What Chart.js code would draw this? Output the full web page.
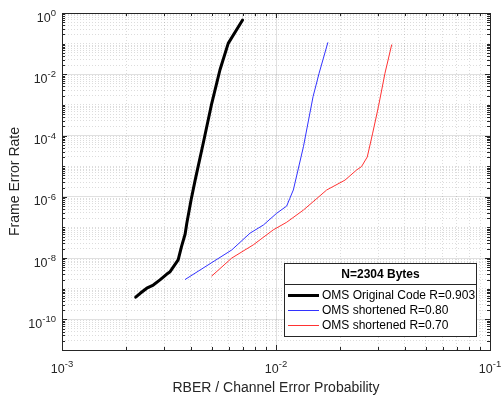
<!DOCTYPE html>
<html>
<head>
<meta charset="utf-8">
<script src="https://cdn.jsdelivr.net/npm/chart.js@4.4.1/dist/chart.umd.min.js"></script>
<style>
  html, body { margin: 0; padding: 0; background: #fff; }
  canvas { display: block; }
</style>
</head>
<body>
<canvas id="ferChart" width="501" height="395"></canvas>
<script>
// axis limits (log10 exponents)
const xExpRange = [-3, -1];
const yExpRange = [-11, 0];
const xLabelExps = [-3, -2, -1];
const yLabelExps = [0, -2, -4, -6, -8, -10];

const xTitle = 'RBER / Channel Error Probability';
const yTitle = 'Frame Error Rate';
const legendTitle = 'N=2304 Bytes';

const seriesLabels = [
    'OMS Original Code R=0.903',
    'OMS shortened R=0.80',
    'OMS shortened R=0.70'
];

// OMS original code
const origX = [0.00221, 0.00232, 0.00249, 0.00267, 0.00287, 0.00308, 0.0032, 0.00349, 0.00362,
    0.00376, 0.00383, 0.00401, 0.00419, 0.00457, 0.00501, 0.00547, 0.00598, 0.00698];
const origY = [5.3e-10, 7.1e-10, 1.04e-9, 1.32e-9, 1.94e-9, 2.96e-9, 3.6e-9, 8.7e-9, 2.4e-8,
    6e-8, 1.37e-7, 7.9e-7, 3.5e-6, 5.6e-5, 1.13e-3, 1.38e-2, 0.102, 0.59];

// shortened R=0.80
const r80X = [0.00376, 0.00621, 0.00756, 0.00873, 0.01007, 0.01122, 0.0116, 0.01205, 0.01343,
    0.0149, 0.0159, 0.01746];
const r80Y = [2.0e-9, 1.84e-8, 6.5e-8, 1.2e-7, 2.9e-7, 5.0e-7, 8.9e-7, 1.67e-6, 4.3e-5,
    1.86e-3, 1.08e-2, 0.107];

// shortened R=0.70
const r70X = [0.00501, 0.00621, 0.00783, 0.0097, 0.01122, 0.01343, 0.0149, 0.01725, 0.0210,
    0.0238, 0.0251, 0.0267, 0.0283, 0.0301, 0.0323, 0.0347];
const r70Y = [2.6e-9, 1.0e-8, 2.7e-8, 8.3e-8, 1.48e-7, 3.7e-7, 6.9e-7, 1.67e-6, 3.5e-6,
    7.5e-6, 9.7e-6, 2.0e-5, 1.2e-4, 8.7e-4, 1.08e-2, 0.091];

const FONT = '"Liberation Sans", Arial, Helvetica, sans-serif';
const AXIS_COLOR = 'rgb(38,38,38)';

function pts(xs, ys) {
    return xs.map((x, i) => ({ x: x, y: ys[i] }));
}

// 1..9 x 10^e for every decade, like matlab minor ticks
function logTicks(range) {
    const out = [];
    for (let e = range[0]; e < range[1]; e++) {
        for (let m = 1; m <= 9; m++) out.push({ value: m * Math.pow(10, e) });
    }
    out.push({ value: Math.pow(10, range[1]) });
    return out;
}

function decadeOf(v) {
    const l = Math.log10(v);
    const r = Math.round(l);
    return Math.abs(l - r) < 1e-9 ? r : null;
}

function isMajor(v, labelExps) {
    const d = decadeOf(v);
    return d !== null && labelExps.includes(d);
}

function gridFor(labelExps) {
    return {
        drawTicks: false,
        color: (c) => isMajor(c.tick.value, labelExps) ? 'rgba(38,38,38,0.14)' : 'rgba(38,38,38,0.16)',
        lineWidth: 1
    };
}

function borderFor(labelExps) {
    return {
        display: false,
        dash: (c) => (c.tick && isMajor(c.tick.value, labelExps)) ? [] : [1, 2]
    };
}

// box, inner tick marks, superscript labels, titles and the boxed legend
const matlabAxes = {
    id: 'matlabAxes',
    afterDraw(chart) {
        const ctx = chart.ctx;
        const a = chart.chartArea;
        const xs = chart.scales.x;
        const ys = chart.scales.y;

        ctx.save();
        ctx.strokeStyle = AXIS_COLOR;
        ctx.lineWidth = 1;

        // tick marks on all four sides
        ctx.beginPath();
        xs.ticks.forEach(t => {
            const px = Math.round(xs.getPixelForValue(t.value)) + 0.5;
            const len = decadeOf(t.value) !== null ? 5 : 3;
            ctx.moveTo(px, a.bottom); ctx.lineTo(px, a.bottom - len);
            ctx.moveTo(px, a.top); ctx.lineTo(px, a.top + len);
        });
        ys.ticks.forEach(t => {
            const py = Math.round(ys.getPixelForValue(t.value)) + 0.5;
            const len = isMajor(t.value, yLabelExps) ? 5 : 3;
            ctx.moveTo(a.left, py); ctx.lineTo(a.left + len, py);
            ctx.moveTo(a.right, py); ctx.lineTo(a.right - len, py);
        });
        ctx.stroke();

        ctx.strokeRect(Math.round(a.left) + 0.5, Math.round(a.top) + 0.5,
            Math.round(a.right - a.left), Math.round(a.bottom - a.top));

        ctx.fillStyle = AXIS_COLOR;
        ctx.textBaseline = 'alphabetic';

        // x tick labels
        xLabelExps.forEach(e => {
            const px = xs.getPixelForValue(Math.pow(10, e));
            ctx.font = '12.5px ' + FONT;
            const wb = ctx.measureText('10').width;
            ctx.font = '9.5px ' + FONT;
            const we = ctx.measureText(String(e)).width;
            const x0 = px - (wb + we) / 2;
            ctx.textAlign = 'left';
            ctx.font = '12.5px ' + FONT;
            ctx.fillText('10', x0, 372.5);
            ctx.font = '9.5px ' + FONT;
            ctx.fillText(String(e), x0 + wb, 366.5);
        });

        // y tick labels
        yLabelExps.forEach(e => {
            const py = ys.getPixelForValue(Math.pow(10, e));
            ctx.font = '9.5px ' + FONT;
            const we = ctx.measureText(String(e)).width;
            ctx.textAlign = 'right';
            ctx.fillText(String(e), 56, py + 3);
            ctx.font = '12.5px ' + FONT;
            ctx.fillText('10', 56 - we, py + 8.5);
        });

        // axis titles
        ctx.font = '14px ' + FONT;
        ctx.textAlign = 'center';
        ctx.fillText(xTitle, (a.left + a.right) / 2, 392);
        ctx.save();
        ctx.translate(18.5, (a.top + a.bottom) / 2);
        ctx.rotate(-Math.PI / 2);
        ctx.fillText(yTitle, 0, 0);
        ctx.restore();

        // legend
        const L = 284.5, T = 263.5, R = 476.5, B = 336.5;
        ctx.fillStyle = '#fff';
        ctx.fillRect(L, T, R - L, B - T);
        ctx.strokeStyle = AXIS_COLOR;
        ctx.lineWidth = 1;
        ctx.strokeRect(L, T, R - L, B - T);
        ctx.beginPath();
        ctx.moveTo(L, 284.5); ctx.lineTo(R, 284.5);
        ctx.stroke();

        ctx.fillStyle = 'rgb(0,0,0)';
        ctx.font = 'bold 12px ' + FONT;
        ctx.textAlign = 'center';
        ctx.textBaseline = 'middle';
        ctx.fillText(legendTitle, (L + R) / 2, 274.5);

        const rowY = [295.5, 310.5, 325.5];
        chart.data.datasets.forEach((ds, i) => {
            ctx.strokeStyle = ds.borderColor;
            ctx.lineWidth = ds.borderWidth;
            ctx.beginPath();
            ctx.moveTo(288, rowY[i]); ctx.lineTo(319, rowY[i]);
            ctx.stroke();
            ctx.fillStyle = 'rgb(0,0,0)';
            ctx.font = '12px ' + FONT;
            ctx.textAlign = 'left';
            ctx.fillText(ds.label, 322, rowY[i] + 0.5);
        });
        ctx.restore();
    }
};

new Chart(document.getElementById('ferChart').getContext('2d'), {
    type: 'line',
    data: {
        datasets: [
            { label: seriesLabels[0], data: pts(origX, origY), borderColor: '#000000', borderWidth: 3 },
            { label: seriesLabels[1], data: pts(r80X, r80Y), borderColor: 'rgb(50,50,255)', borderWidth: 1 },
            { label: seriesLabels[2], data: pts(r70X, r70Y), borderColor: 'rgb(255,50,50)', borderWidth: 1 }
        ]
    },
    options: {
        responsive: false,
        animation: false,
        elements: { point: { radius: 0 }, line: { tension: 0, fill: false, borderJoinStyle: 'round', borderCapStyle: 'round' } },
        layout: { padding: { left: 62, top: 13, right: 11, bottom: 45 } },
        plugins: { legend: { display: false }, title: { display: false }, tooltip: { enabled: false } },
        scales: {
            x: {
                type: 'logarithmic',
                min: Math.pow(10, xExpRange[0]),
                max: Math.pow(10, xExpRange[1]),
                afterBuildTicks: (s) => { s.ticks = logTicks(xExpRange); },
                ticks: { display: false },
                grid: gridFor(xLabelExps),
                border: borderFor(xLabelExps)
            },
            y: {
                type: 'logarithmic',
                min: Math.pow(10, yExpRange[0]),
                max: Math.pow(10, yExpRange[1]),
                afterBuildTicks: (s) => { s.ticks = logTicks(yExpRange); },
                ticks: { display: false },
                grid: gridFor(yLabelExps),
                border: borderFor(yLabelExps)
            }
        }
    },
    plugins: [matlabAxes]
});
</script>
</body>
</html>
